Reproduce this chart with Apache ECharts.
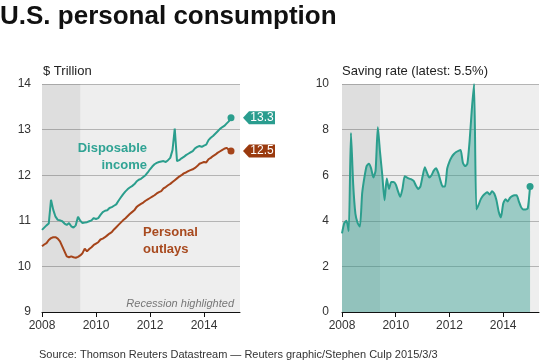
<!DOCTYPE html>
<html><head><meta charset="utf-8">
<script src="https://cdn.jsdelivr.net/npm/echarts@6/dist/echarts.min.js"></script>
<style>html,body{margin:0;padding:0;background:#fff}#c{width:542px;height:364px}</style>
</head><body><div id="c"></div>
<script>
// Monthly categories Jan 2008 .. May 2015 (axis extends past last data point)
const categories = [];
for (let y = 2008; y <= 2015; y++) {
  for (let m = 1; m <= 12; m++) {
    if (y === 2015 && m > 5) break;
    categories.push(y + '-' + (m < 10 ? '0' + m : m));
  }
}
const yearTicks = ['2008', '2010', '2012', '2014'];
const leftYTicks = [9, 10, 11, 12, 13, 14];
const rightYTicks = [0, 2, 4, 6, 8, 10];
const recession = ['2008-01', '2009-06'];

// $ trillion, Jan 2008 .. Jan 2015
const income = [10.80,10.85,10.90,10.94,11.46,11.24,11.09,11.02,11.01,10.99,10.94,10.91,
  10.95,10.88,10.85,10.90,11.09,11.00,10.95,10.96,10.97,10.99,11.01,11.06,
  11.04,11.06,11.13,11.19,11.22,11.23,11.28,11.30,11.33,11.36,11.44,11.51,
  11.58,11.64,11.69,11.73,11.76,11.80,11.86,11.90,11.92,11.96,12.00,12.06,
  12.13,12.19,12.24,12.27,12.29,12.30,12.31,12.29,12.33,12.38,12.55,13.02,
  12.31,12.33,12.37,12.40,12.44,12.47,12.50,12.53,12.59,12.62,12.64,12.62,
  12.65,12.67,12.77,12.82,12.86,12.91,12.96,13.01,13.05,13.08,13.13,13.18,
  13.26];
const outlays = [10.44,10.48,10.51,10.58,10.62,10.64,10.64,10.61,10.55,10.44,10.33,10.22,
  10.20,10.22,10.20,10.19,10.21,10.24,10.29,10.39,10.33,10.38,10.42,10.47,
  10.50,10.53,10.59,10.61,10.64,10.68,10.72,10.75,10.81,10.86,10.91,10.96,
  11.01,11.05,11.10,11.15,11.19,11.23,11.30,11.34,11.37,11.40,11.44,11.47,
  11.50,11.53,11.56,11.60,11.63,11.65,11.71,11.74,11.78,11.81,11.85,11.89,
  11.93,11.97,12.00,12.04,12.06,12.09,12.11,12.13,12.16,12.20,12.25,12.27,
  12.29,12.28,12.35,12.38,12.42,12.45,12.49,12.52,12.55,12.58,12.60,12.56,
  12.53];
// saving rate, %
const saving = [3.45,3.9,4.0,3.55,7.85,5.6,4.3,3.9,3.75,5.2,5.9,6.4,
  6.5,6.3,5.9,6.2,8.1,7.0,6.0,4.9,5.85,5.4,5.7,5.7,
  5.6,5.3,5.05,5.4,5.95,5.9,5.85,5.82,5.75,5.55,5.4,5.5,
  5.95,6.35,6.1,5.9,6.0,6.2,6.3,6.1,5.75,5.5,5.5,6.3,
  6.6,6.8,6.93,7.02,7.07,7.1,6.55,6.4,6.5,7.5,8.9,10.0,
  4.5,4.7,4.95,5.1,5.2,5.25,5.15,5.3,5.2,4.9,4.4,4.15,
  4.75,4.95,4.85,5.0,5.08,5.12,5.12,4.85,4.6,4.5,4.5,4.55,
  5.5];

const TEAL = '#2b9e8d', BROWN = '#a5441a';
const FONT = '"Liberation Sans", Arial, sans-serif';
const isTick = (i) => yearTicks.includes(categories[i].slice(0, 4)) && categories[i].endsWith('-01');

function xAxis(gi) {
  return {
    type: 'category', gridIndex: gi, data: categories, boundaryGap: false,
    axisLine: { lineStyle: { color: '#111', width: 1 } },
    axisTick: { interval: (i) => isTick(i), length: 5, lineStyle: { color: '#111' } },
    axisLabel: { interval: (i) => isTick(i), formatter: (v) => v.slice(0, 4), color: '#333', fontSize: 12, fontFamily: FONT, margin: 8 },
    splitLine: { show: false }
  };
}
function yAxis(gi, ticks, margin) {
  return {
    type: 'value', gridIndex: gi, min: ticks[0], max: ticks[ticks.length - 1], interval: ticks[1] - ticks[0],
    axisLine: { show: false }, axisTick: { show: false },
    axisLabel: { color: '#333', fontSize: 12, fontFamily: FONT, margin: margin },
    splitLine: { lineStyle: { color: '#b4b4b4', width: 1 } }
  };
}
const last = income.length - 1;
const endSym = (v, p) => (p.dataIndex === last ? 'circle' : 'none');
function tag(arr, color) {
  return {
    symbol: 'path://M0,6L6,0L32,0L32,12L6,12Z', symbolSize: [32, 13], symbolOffset: [28, 0],
    itemStyle: { color: color },
    label: { show: true, color: '#fff', fontSize: 12, fontFamily: FONT, offset: [3, 0], formatter: (p) => p.value },
    data: [{ coord: [categories[last], arr[last]], value: arr[last].toFixed(1) }]
  };
}
function recArea() {
  return {
    silent: true, itemStyle: { color: 'rgba(0,0,0,0.065)' },
    data: [[{ xAxis: recession[0] }, { xAxis: recession[1] }]]
  };
}

const option = {
  animation: false,
  grid: [
    { left: 42, top: 84, width: 198, height: 228, show: true, backgroundColor: '#eeeeee', borderWidth: 0 },
    { left: 342, top: 84, width: 197, height: 228, show: true, backgroundColor: '#eeeeee', borderWidth: 0 }
  ],
  xAxis: [xAxis(0), xAxis(1)],
  yAxis: [yAxis(0, leftYTicks, 11), yAxis(1, rightYTicks, 13)],
  series: [
    { name: 'Disposable income', type: 'line', xAxisIndex: 0, yAxisIndex: 0, data: income,
      symbol: endSym, symbolSize: 7, showSymbol: true, showAllSymbol: true,
      lineStyle: { color: TEAL, width: 2 }, itemStyle: { color: TEAL },
      markArea: recArea(), markPoint: tag(income, '#2a9d8f') },
    { name: 'Personal outlays', type: 'line', xAxisIndex: 0, yAxisIndex: 0, data: outlays,
      symbol: endSym, symbolSize: 7, showSymbol: true, showAllSymbol: true,
      lineStyle: { color: BROWN, width: 2 }, itemStyle: { color: BROWN },
      markPoint: tag(outlays, '#9a3a0e') },
    { name: 'Saving rate', type: 'line', xAxisIndex: 1, yAxisIndex: 1, data: saving,
      symbol: endSym, symbolSize: 7, showSymbol: true, showAllSymbol: true, smooth: 0.2,
      lineStyle: { color: TEAL, width: 2 }, itemStyle: { color: TEAL },
      areaStyle: { color: 'rgba(47,158,143,0.43)', opacity: 1 },
      markArea: recArea() }
  ],
  graphic: [
    { type: 'text', x: 0, y: 17, style: { text: 'U.S. personal consumption', font: 'bold 26px ' + FONT, fill: '#111', align: 'left', verticalAlign: 'middle' } },
    { type: 'text', x: 43, y: 71, style: { text: '$ Trillion', font: '13px ' + FONT, fill: '#222', align: 'left', verticalAlign: 'middle' } },
    { type: 'text', x: 342, y: 71, style: { text: 'Saving rate (latest: ' + saving[saving.length - 1].toFixed(1) + '%)', font: '13px ' + FONT, fill: '#222', align: 'left', verticalAlign: 'middle' } },
    { type: 'text', x: 147, y: 148, z: 10, style: { text: 'Disposable', font: 'bold 13px ' + FONT, fill: '#30a394', align: 'right', verticalAlign: 'middle' } },
    { type: 'text', x: 147, y: 165, z: 10, style: { text: 'income', font: 'bold 13px ' + FONT, fill: '#30a394', align: 'right', verticalAlign: 'middle' } },
    { type: 'text', x: 143, y: 232, z: 10, style: { text: 'Personal', font: 'bold 13px ' + FONT, fill: '#a84a1f', align: 'left', verticalAlign: 'middle' } },
    { type: 'text', x: 143, y: 249, z: 10, style: { text: 'outlays', font: 'bold 13px ' + FONT, fill: '#a84a1f', align: 'left', verticalAlign: 'middle' } },
    { type: 'text', x: 234, y: 304, z: 10, style: { text: 'Recession highlighted', font: 'italic 11px ' + FONT, fill: '#777', align: 'right', verticalAlign: 'middle' } },
    { type: 'text', x: 39, y: 355, style: { text: 'Source: Thomson Reuters Datastream \u2014 Reuters graphic/Stephen Culp 2015/3/3', font: '11px ' + FONT, fill: '#333', align: 'left', verticalAlign: 'middle' } }
  ]
};
const chart = echarts.init(document.getElementById('c'), null, { renderer: 'canvas' });
chart.setOption(option);
</script>
</body></html>
